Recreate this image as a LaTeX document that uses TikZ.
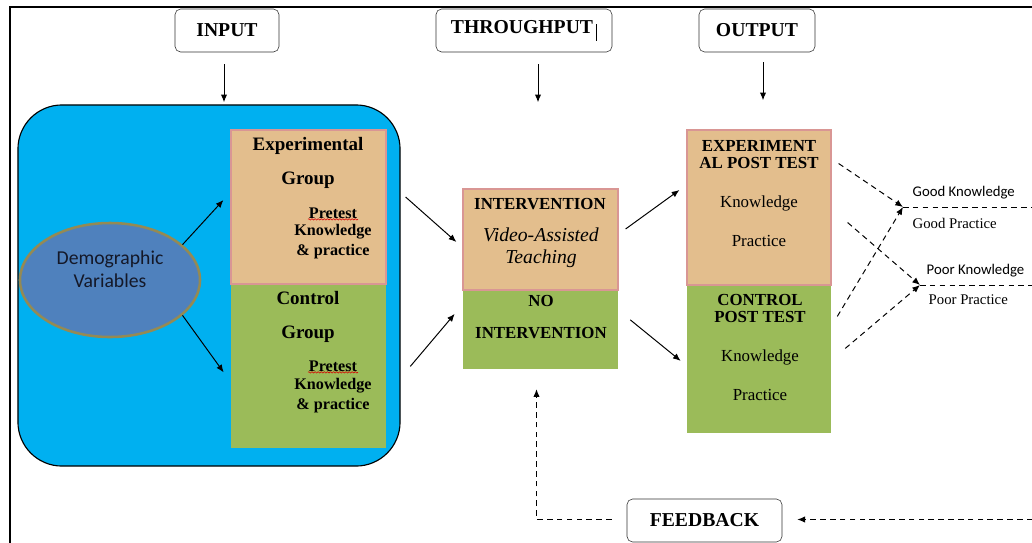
\documentclass[tikz,border=0pt]{standalone}
\usepackage{fontspec}
\setmainfont{Liberation Serif}
\newfontfamily\calibri{Carlito}
\usetikzlibrary{arrows.meta,positioning,shapes.geometric,decorations.pathmorphing}
\definecolor{skyfill}{RGB}{0,176,240}
\definecolor{tanfill}{RGB}{227,190,141}
\definecolor{pinkline}{RGB}{217,150,148}
\definecolor{grnfill}{RGB}{155,187,89}
\definecolor{demofill}{RGB}{79,129,189}
\definecolor{demoline}{RGB}{148,138,84}
\definecolor{demotext}{RGB}{20,24,40}

\begin{document}
\begin{tikzpicture}[
    x=0.025cm, y=-0.025cm,
    hdr/.style={draw=black!80, rounded corners=4pt, minimum width=#1,
      minimum height=1.075cm, font=\fontsize{14}{16}\selectfont\bfseries},
    tanbox/.style={draw=pinkline, line width=0.8pt, fill=tanfill,
      minimum width=#1, inner sep=0pt},
    grnbox/.style={fill=grnfill, minimum width=#1, inner sep=0pt},
    title/.style={font=\fontsize{13.5}{24}\selectfont\bfseries, align=center},
    caps/.style={font=\fontsize{12}{12}\selectfont\bfseries, align=center},
    body/.style={font=\fontsize{11.5}{14.2}\selectfont\bfseries, align=center,
      inner sep=0.5pt},
    plain/.style={font=\fontsize{12}{14}\selectfont},
    note/.style={anchor=west, inner sep=1pt},
    arrow/.style={-{Latex[length=5.5pt,width=4.5pt]}, line width=0.7pt},
    dasharrow/.style={-{Latex[length=5.5pt,width=4.5pt]}, line width=0.7pt,
      dash pattern=on 4pt off 3pt},
    dashline/.style={line width=0.7pt, dash pattern=on 4pt off 3pt},
    squiggle/.style={red!85!black, line width=0.4pt, decorate,
      decoration={snake, amplitude=0.5pt, segment length=2.2pt}}
  ]
    % Page and frame
    \fill[white] (0,0) rectangle (1032,542);
    \useasboundingbox (0,0) rectangle (1032,542);
    \clip (0,0) rectangle (1032,542);
    \draw[line width=1.5pt] (10,7) rectangle (1060,580);

    % Column headers
    \node[hdr=2.6cm] (inbox) at (227,30.5) {INPUT};
    \node[hdr=4.4cm] (thrbox) at (524,30.5) {THROUGHPUT\,\rule[-5pt]{0.5pt}{12pt}};
    \node[hdr=2.9cm] (outbox) at (757,30.5) {OUTPUT};

    \draw[arrow] (inbox.south) ++(-3,12) -- ++(0,38);
    \draw[arrow] (thrbox.south) ++(14,12) -- ++(0,38);
    \draw[arrow] (outbox.south) ++(6,10) -- ++(0,38);

    % Input: blue panel with the two groups
    \node[draw, line width=0.8pt, fill=skyfill, rounded corners=1.1cm,
      minimum width=9.55cm, minimum height=9.025cm] (panel) at (209,285.5) {};
    \node[ellipse, draw=demoline, line width=1.8pt, fill=demofill,
      minimum width=4.5cm, minimum height=2.85cm] (demo) at (110,280) {};
    \node[font=\calibri\fontsize{14}{16.5}\selectfont, text=demotext,
      align=center] (demotxt) at (110,269) {Demographic\\Variables};

    \node[tanbox=3.875cm, minimum height=3.85cm] (expgrp) at (308.5,207) {};
    \node[grnbox=3.875cm, minimum height=4.075cm, below=0pt of expgrp] (ctlgrp) {};

    \node[title] (expttl) at (308,163) {Experimental\\Group};
    \node[body] (exppre) at (333,213) {Pretest};
    \node[body] (expkp) at (333,242) {Knowledge\\\& practice};
    \draw[squiggle] (exppre.south west) -- (exppre.south east);

    \node[title] (ctlttl) at (308,317) {Control\\Group};
    \node[body] (ctlpre) at (333,366) {Pretest};
    \node[body] (ctlkp) at (333,396) {Knowledge\\\& practice};
    \draw[squiggle] (ctlpre.south west) -- (ctlpre.south east);

    \draw[arrow] (demo.26) -- ([shift={(-7,-7)}]expgrp.west);
    \draw[arrow] (demo.-26) -- ([shift={(-7,6)}]ctlgrp.west);

    % Throughput: intervention
    \node[tanbox=3.875cm, minimum height=2.525cm] (intv) at (540.5,239.5) {};
    \node[grnbox=3.875cm, minimum height=1.95cm, below=0pt of intv] (nointv) {};
    \node[caps] (intvttl) at (540,204) {INTERVENTION};
    \node[font=\fontsize{14}{15.6}\selectfont\itshape, align=center] (intvtxt)
      at (541,248) {Video-Assisted\\Teaching};
    \node[caps] (nointvttl) at (541,317) {NO\\[10.7pt]INTERVENTION};

    \draw[arrow] ([shift={(19,-10)}]expgrp.east) -- ([shift={(-6,2.5)}]intv.west);
    \draw[arrow] ([shift={(24,0)}]ctlgrp.east) -- ([shift={(-8,-16)}]nointv.west);

    % Output: post tests
    \node[tanbox=3.6cm, minimum height=3.875cm] (exppost) at (759,207.5) {};
    \node[grnbox=3.6cm, minimum height=3.675cm, below=0pt of exppost] (ctlpost) {};
    \node[caps] (expposttl) at (759,154.5) {EXPERIMENT\\AL POST TEST};
    \node[plain] (expk) at (759,203) {Knowledge};
    \node[plain] (expp) at (759,241) {Practice};
    \node[caps] (ctlposttl) at (760,308.5) {CONTROL\\POST TEST};
    \node[plain] (ctlk) at (760,357) {Knowledge};
    \node[plain] (ctlp) at (760,395) {Practice};

    \draw[arrow] ([shift={(7,-10.5)}]intv.east) -- ([shift={(-7,-17.5)}]exppost.west);
    \draw[arrow] ([shift={(12,-10)}]nointv.east) -- ([shift={(-6,1.5)}]ctlpost.west);

    % Outcomes
    \coordinate (goodpt) at (903,207);
    \coordinate (poorpt) at (920,285);
    \node[note, font=\calibri\fontsize{10.5}{12}\selectfont] (goodk)
      at ([shift={(8,-14)}]goodpt) {Good Knowledge};
    \node[note, font=\fontsize{10.5}{12}\selectfont] (goodp)
      at ([shift={(8,16)}]goodpt) {Good Practice};
    \node[note, font=\calibri\fontsize{10.5}{12}\selectfont] (poork)
      at ([shift={(5,-14)}]poorpt) {Poor Knowledge};
    \node[note, font=\fontsize{10.5}{12}\selectfont] (poorp)
      at ([shift={(7,15)}]poorpt) {Poor Practice};

    \draw[dasharrow] ([shift={(7,-44)}]exppost.east) -- (goodpt);
    \draw[dasharrow] ([shift={(16,15)}]exppost.east) -- (poorpt);
    \draw[dasharrow] ([shift={(6,-43)}]ctlpost.east) -- (goodpt);
    \draw[dasharrow] ([shift={(14,-11)}]ctlpost.east) -- (poorpt);
    \draw[dashline] (goodpt) -- ++(140,0);
    \draw[dashline] (poorpt) -- ++(140,0);

    % Feedback loop
    \node[hdr=3.875cm] (fbbox) at (704.5,520.5) {FEEDBACK};
    \draw[dasharrow] (fbbox.east) ++(260,-1) -- ++(-245,0);
    \draw[dasharrow] (fbbox.west) ++(-15,-1) -| ([shift={(-4,20)}]nointv.south);
  \end{tikzpicture}
\end{document}
